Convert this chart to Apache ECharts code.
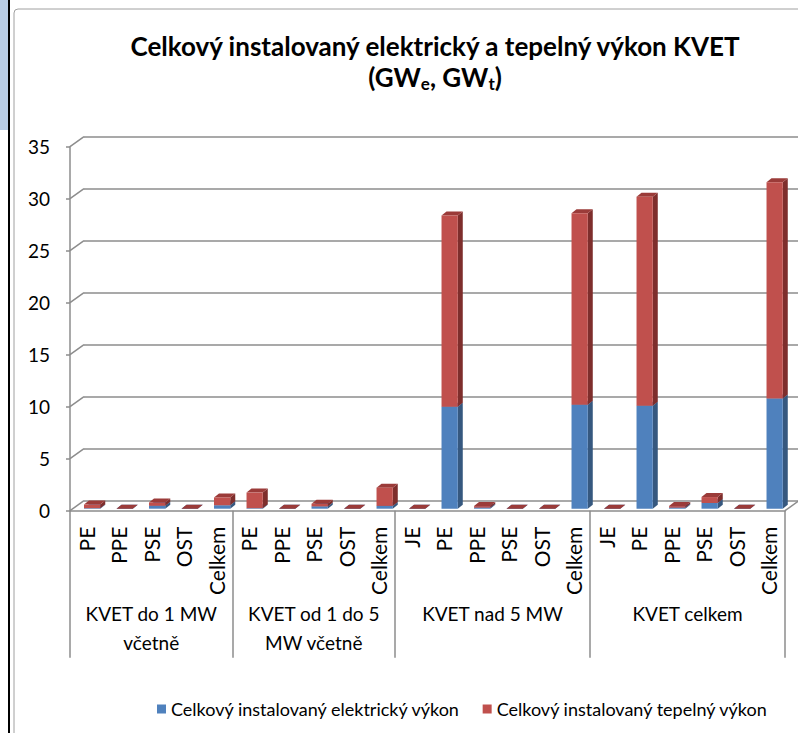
<!DOCTYPE html>
<html lang="cs">
<head>
<meta charset="UTF-8">
<title>Celkový instalovaný výkon KVET</title>
<script src="https://cdn.jsdelivr.net/npm/echarts@6/dist/echarts.min.js"></script>
<style>
  html, body { margin: 0; padding: 0; background: #fff; }
  #chart { width: 798px; height: 733px; }
</style>
</head>
<body>
<div id="chart"></div>
<script>
// popisky kategorií (spodní řada)
var categories = ['PE', 'PPE', 'PSE', 'OST', 'Celkem',
                  'PE', 'PPE', 'PSE', 'OST', 'Celkem',
                  'JE', 'PE', 'PPE', 'PSE', 'OST', 'Celkem',
                  'JE', 'PE', 'PPE', 'PSE', 'OST', 'Celkem'];
// skupiny a jejich počet kategorií
var groupNames = ['KVET do 1 MW\nvčetně', 'KVET od 1 do 5\nMW včetně', 'KVET nad 5 MW', 'KVET celkem'];
var groupSizes = [5, 5, 6, 6];
// hodnoty GW
var electric = [0.05, 0, 0.28, 0, 0.33,
                0.05, 0, 0.22, 0, 0.27,
                0, 9.8, 0.1, 0, 0, 10.0,
                0, 9.9, 0.1, 0.55, 0, 10.6];
var thermal  = [0.35, 0, 0.32, 0, 0.75,
                1.5, 0, 0.25, 0, 1.75,
                0, 18.4, 0.15, 0, 0, 18.4,
                0, 20.1, 0.15, 0.57, 0, 20.8];
var yTicks = [0, 5, 10, 15, 20, 25, 30, 35];
var seriesNames = ['Celkový instalovaný elektrický výkon', 'Celkový instalovaný tepelný výkon'];

var FONT = 'Lato, sans-serif';
var GRID = '#8c8c8c';
var DX = 14, DY = -10;       // hloubka podlahy
var BX = 5, BY = -4;         // hloubka sloupce

// osa skupin: půlkroky kategorií, boundaryGap false
var bounds = [0];
groupSizes.forEach(function (n, i) { bounds.push(bounds[i] + n); });
var groupAxis = [];
for (var h = 0; h <= bounds[bounds.length - 1] * 2; h++) groupAxis.push('');
var tickIdx = bounds.map(function (b) { return b * 2; });
groupNames.forEach(function (g, i) { groupAxis[bounds[i] + bounds[i + 1]] = g; });

var elData = [], thData = [];
for (var i = 0; i < categories.length; i++) {
  elData.push([i, 0, electric[i]]);
  thData.push([i, electric[i], electric[i] + thermal[i]]);
}

function shade(front, side, top) {
  return function (params, api) {
    var i = api.value(0);
    var c0 = api.coord([i, api.value(1)]);
    var c1 = api.coord([i, api.value(2)]);
    var w = api.size([1, 0])[0] * 0.5;
    var x0 = c0[0] + 5.9 - w / 2, x1 = x0 + w;
    var yb = c0[1] - 2, yt = c1[1] - 2;
    return {
      type: 'group',
      children: [
        { type: 'polygon', shape: { points: [[x1, yb], [x1 + BX, yb + BY], [x1 + BX, yt + BY], [x1, yt]] }, style: { fill: side } },
        { type: 'polygon', shape: { points: [[x0, yt], [x0 + BX, yt + BY], [x1 + BX, yt + BY], [x1, yt]] }, style: { fill: top } },
        { type: 'rect', shape: { x: x0, y: yt, width: w, height: yb - yt }, style: { fill: front } }
      ]
    };
  };
}

var chart = echarts.init(document.getElementById('chart'), null, { renderer: 'svg' });
chart.setOption({
  animation: false,
  textStyle: { fontFamily: FONT, color: '#000' },
  color: ['#4F81BD', '#C0504D'],
  title: {
    left: 430, top: 25, textAlign: 'center',
    text: 'Celkový instalovaný elektrický a tepelný výkon KVET\n{b|(GW}{s|e}{b|, GW}{s|t}{b|)}',
    textStyle: {
      fontFamily: FONT, fontSize: 26, fontWeight: 'bold', lineHeight: 31, color: '#000',
      rich: {
        b: { fontFamily: FONT, fontSize: 26, fontWeight: 'bold', lineHeight: 31 },
        s: { fontFamily: FONT, fontSize: 17, fontWeight: 'bold', lineHeight: 13, verticalAlign: 'bottom' }
      }
    }
  },
  legend: {
    data: seriesNames, left: 152, top: 695, icon: 'rect', itemWidth: 9, itemHeight: 9, itemGap: 22,
    textStyle: { fontFamily: FONT, fontSize: 18, color: '#000' }
  },
  graphic: [
    { type: 'rect', shape: { x: 0, y: 0, width: 9, height: 130 }, style: { fill: '#b8cce4' } },
    { type: 'line', shape: { x1: 9, y1: 0, x2: 9, y2: 733 }, style: { stroke: '#000', lineWidth: 2 } },
    { type: 'rect', shape: { x: 14, y: 9, width: 800, height: 740, r: 4 }, style: { fill: 'none', stroke: '#a0a0a0', lineWidth: 1 } }
  ],
  grid: [
    { left: 70, top: 146.7, width: 715, height: 364 },
    { left: 70 + DX, top: 146.7 + DY, width: 714, height: 364 }
  ],
  xAxis: [
    {
      type: 'category', gridIndex: 0, data: categories,
      axisLine: { lineStyle: { color: GRID, width: 1.5 } },
      axisTick: { length: 80, lineStyle: { color: GRID, width: 1.5 } },
      axisLabel: { rotate: 90, margin: 16, fontSize: 21, fontFamily: FONT, color: '#000', interval: 0 }
    },
    {
      type: 'category', gridIndex: 0, data: groupAxis, boundaryGap: false, position: 'bottom',
      axisLine: { show: false },
      axisTick: { length: 147, interval: function (idx) { return tickIdx.indexOf(idx) >= 0; }, lineStyle: { color: GRID, width: 1.5 } },
      axisLabel: { margin: 88, fontSize: 19, lineHeight: 29, fontFamily: FONT, color: '#000',
                   interval: function (idx, val) { return val !== ''; } }
    },
    { type: 'value', gridIndex: 1, min: 0, max: 1, show: false }
  ],
  yAxis: [
    {
      type: 'value', gridIndex: 0, min: 0, max: 35, interval: 5,
      axisLine: { show: true, lineStyle: { color: GRID, width: 1.5 } },
      axisTick: { show: true, length: 4, lineStyle: { color: GRID, width: 1.5 } },
      axisLabel: { margin: 20, fontSize: 19, fontFamily: FONT, color: '#000' },
      splitLine: { show: false }
    },
    {
      type: 'value', gridIndex: 1, min: 0, max: 35, interval: 5,
      axisLine: { show: false }, axisTick: { show: false }, axisLabel: { show: false },
      splitLine: { lineStyle: { color: GRID, width: 1.5 } }
    }
  ],
  series: [
    {
      type: 'custom', silent: true, xAxisIndex: 0, yAxisIndex: 0, clip: false, z: 1,
      data: yTicks.map(function (v) { return [0, v]; }),
      renderItem: function (params, api) {
        var cs = params.coordSys;
        var v = api.value(1);
        var y = api.coord([0, v])[1];
        var kids = [{ type: 'line', shape: { x1: cs.x, y1: y, x2: cs.x + DX, y2: y + DY }, style: { stroke: GRID, lineWidth: 1.5 } }];
        if (v === 0) {
          kids.push({ type: 'line', shape: { x1: cs.x + cs.width, y1: y, x2: cs.x + cs.width + DX, y2: y + DY }, style: { stroke: GRID, lineWidth: 1.5 } });
        }
        return { type: 'group', children: kids };
      }
    },
    {
      name: seriesNames[0], type: 'custom', xAxisIndex: 0, yAxisIndex: 0, clip: false, z: 3,
      itemStyle: { color: '#4F81BD' },
      data: elData, renderItem: shade('#4F81BD', '#36587F', '#4372A8')
    },
    {
      name: seriesNames[1], type: 'custom', xAxisIndex: 0, yAxisIndex: 0, clip: false, z: 4,
      itemStyle: { color: '#C0504D' },
      data: thData, renderItem: shade('#C0504D', '#7E2E2C', '#9B3B39')
    }
  ]
});
</script>
</body>
</html>
